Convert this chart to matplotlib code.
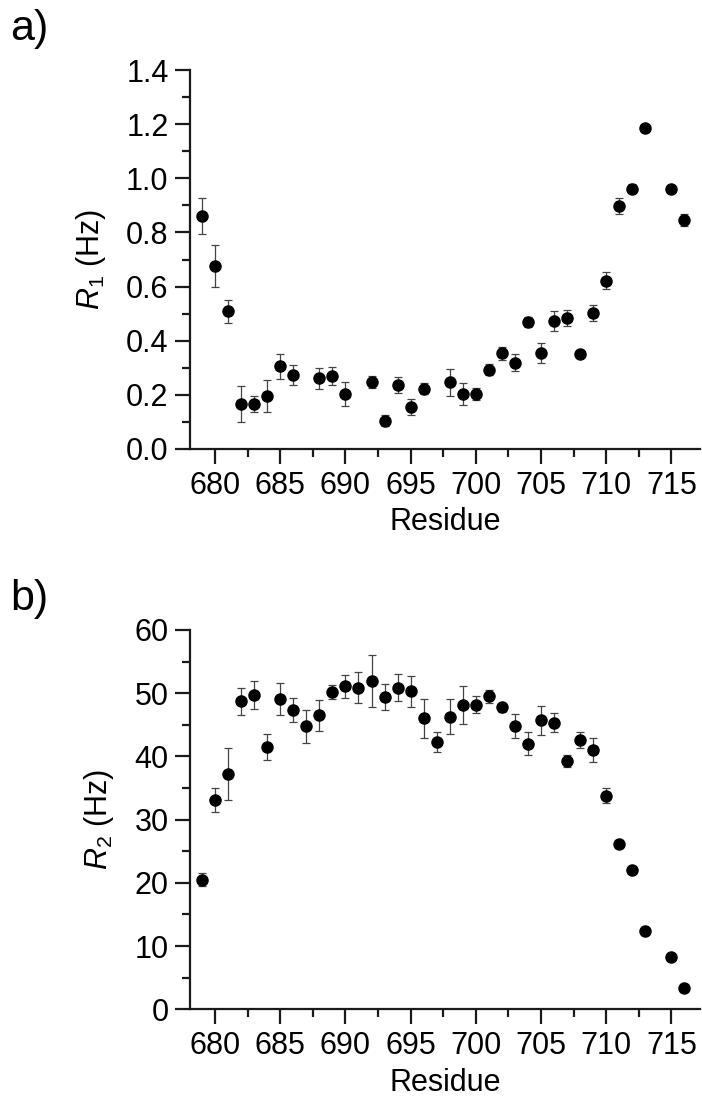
import matplotlib
matplotlib.use("Agg")
import matplotlib.pyplot as plt
from matplotlib.ticker import MultipleLocator

# Data relaksasi R1 (panel a)
residues_r1 = [679, 680, 681, 682, 683, 684, 685, 686, 688, 689, 690, 692, 693, 694,
               695, 696, 698, 699, 700, 701, 702, 703, 704, 705, 706, 707, 708, 709,
               710, 711, 712, 713, 715, 716]
r1 = [0.862, 0.675, 0.509, 0.165, 0.167, 0.197, 0.305, 0.273, 0.261, 0.270, 0.204,
      0.248, 0.105, 0.236, 0.156, 0.223, 0.246, 0.204, 0.204, 0.293, 0.353, 0.319,
      0.470, 0.353, 0.473, 0.483, 0.350, 0.502, 0.622, 0.899, 0.962, 1.186, 0.959,
      0.846]
r1_err = [0.066, 0.078, 0.043, 0.066, 0.030, 0.059, 0.046, 0.036, 0.038, 0.034, 0.045,
          0.022, 0.020, 0.030, 0.030, 0.020, 0.050, 0.040, 0.022, 0.020, 0.025, 0.031,
          0.018, 0.037, 0.038, 0.030, 0.008, 0.030, 0.030, 0.030, 0.018, 0.008, 0.008,
          0.023]

# Data relaksasi R2 (panel b)
residues_r2 = list(range(679, 714)) + [715, 716]
r2 = [20.5, 33.1, 37.2, 48.7, 49.7, 41.5, 49.1, 47.3, 44.75, 46.5, 50.2, 51.1, 50.9,
      51.9, 49.4, 50.9, 50.3, 46.0, 42.3, 46.3, 48.2, 48.2, 49.5, 47.8, 44.8, 42.0,
      45.7, 45.3, 39.3, 42.6, 41.0, 33.8, 26.1, 22.1, 12.4, 8.2, 3.4]
r2_err = [1.05, 1.9, 4.15, 2.1, 2.25, 2.0, 2.5, 1.9, 2.55, 2.45, 1.1, 1.8, 2.5, 4.1,
          2.0, 2.15, 2.5, 3.05, 1.55, 2.8, 3.0, 1.3, 1.05, 0.7, 1.85, 1.8, 2.35, 1.5,
          1.0, 1.2, 1.95, 1.15, 0.6, 0.3, 0.3, 0.3, 0.3]

plt.rcParams["font.family"] = ["Liberation Sans", "DejaVu Sans"]
plt.rcParams["mathtext.fontset"] = "custom"
plt.rcParams["mathtext.rm"] = "Liberation Sans"
plt.rcParams["mathtext.it"] = "Liberation Sans:italic"

FS = 22

fig = plt.figure(figsize=(7.02, 11.01), dpi=100)


def style_axes(ax, ymax, ymajor, yminor):
    ax.set_xlim(678.08, 717.2)
    ax.set_ylim(0, ymax)
    for side in ["top", "right"]:
        ax.spines[side].set_visible(False)
    for side in ["left", "bottom"]:
        ax.spines[side].set_linewidth(1.6)
        ax.spines[side].set_color("#1a1a1a")
    ax.xaxis.set_major_locator(MultipleLocator(5))
    ax.xaxis.set_minor_locator(MultipleLocator(2.5))
    ax.yaxis.set_major_locator(MultipleLocator(ymajor))
    ax.yaxis.set_minor_locator(MultipleLocator(yminor))
    ax.tick_params(which="major", direction="out", length=10.5, width=1.6,
                   labelsize=FS, pad=5, color="#1a1a1a")
    ax.tick_params(which="minor", direction="out", length=5.5, width=1.6,
                   color="#1a1a1a")
    ax.set_xlabel("Residue", fontsize=FS, labelpad=5)


# Panel a: R1
ax1 = fig.add_axes([0.2707, 0.5922, 0.7265, 0.3442])
ax1.errorbar(residues_r1, r1, yerr=r1_err, fmt="o", color="black", markersize=8,
             ecolor="#444444", elinewidth=0.9, capsize=3, capthick=0.9)
style_axes(ax1, 1.4, 0.2, 0.1)
ax1.yaxis.set_major_formatter(plt.FormatStrFormatter("%.1f"))
ax1.set_ylabel(r"$R_1$ (Hz)", fontsize=FS, labelpad=13)

# Panel b: R2
ax2 = fig.add_axes([0.2707, 0.0833, 0.7265, 0.3445])
ax2.errorbar(residues_r2, r2, yerr=r2_err, fmt="o", color="black", markersize=8,
             ecolor="#444444", elinewidth=0.9, capsize=3, capthick=0.9)
style_axes(ax2, 60, 10, 5)
ax2.set_ylabel(r"$R_2$ (Hz)", fontsize=FS, labelpad=13)

fig.text(0.015, 0.992, "a)", fontsize=31, va="top", ha="left")
fig.text(0.015, 0.474, "b)", fontsize=31, va="top", ha="left")

plt.savefig("out.png", dpi=100)
